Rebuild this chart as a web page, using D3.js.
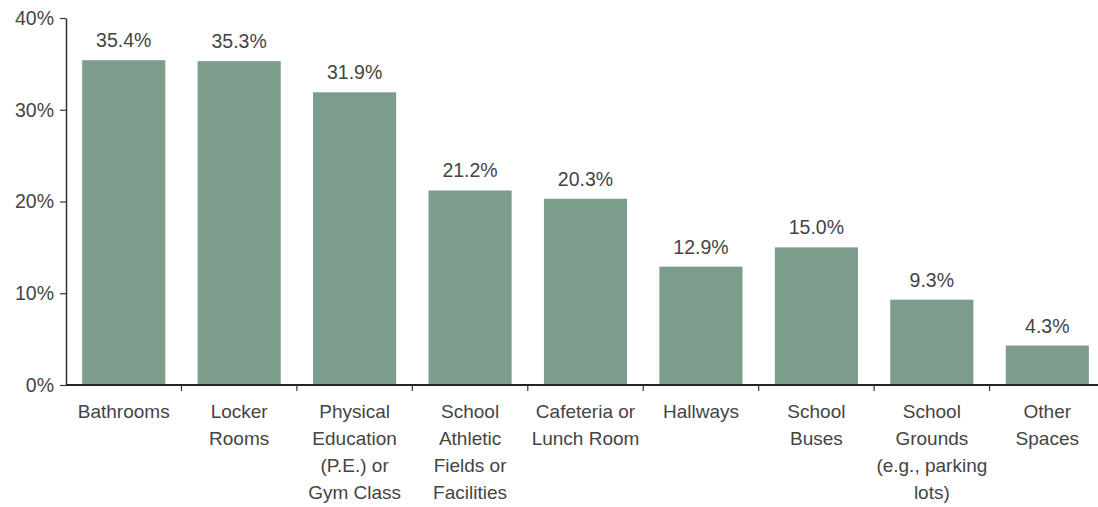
<!DOCTYPE html>
<html>
<head>
<meta charset="utf-8">
<script src="https://cdn.jsdelivr.net/npm/d3@7"></script>
<style>
  body { margin: 0; background: #fff; }
  text { font-family: "Liberation Sans", Arial, sans-serif; fill: #444; }
</style>
</head>
<body>
<div id="chart"></div>
<script>
// data
var categories = [
  ["Bathrooms"],
  ["Locker", "Rooms"],
  ["Physical", "Education", "(P.E.) or", "Gym Class"],
  ["School", "Athletic", "Fields or", "Facilities"],
  ["Cafeteria or", "Lunch Room"],
  ["Hallways"],
  ["School", "Buses"],
  ["School", "Grounds", "(e.g., parking", "lots)"],
  ["Other", "Spaces"]
];
var values = [35.4, 35.3, 31.9, 21.2, 20.3, 12.9, 15.0, 9.3, 4.3];
var yTicks = [0, 10, 20, 30, 40];

var W = 1098, H = 507;
var plotLeft = 66, plotBottom = 385, plotTop = 18;

var svg = d3.select("#chart").append("svg")
  .attr("width", W).attr("height", H);

var x = d3.scaleBand()
  .domain(d3.range(values.length))
  .range([plotLeft, 1105])
  .paddingInner(0.28)
  .paddingOuter(0.14);

var y = d3.scaleLinear()
  .domain([0, 40])
  .range([plotBottom, plotTop]);

// bars
svg.selectAll(".bar")
  .data(values)
  .enter().append("rect")
  .attr("class", "bar")
  .attr("x", function(d, i) { return x(i); })
  .attr("width", x.bandwidth())
  .attr("y", function(d) { return y(d); })
  .attr("height", function(d) { return plotBottom - y(d); })
  .attr("fill", "#7c9c8c");

// value labels
svg.selectAll(".val")
  .data(values)
  .enter().append("text")
  .attr("class", "val")
  .attr("x", function(d, i) { return x(i) + x.bandwidth() / 2; })
  .attr("y", function(d) { return y(d) - 13; })
  .attr("text-anchor", "middle")
  .style("font-size", "19.5px")
  .text(function(d) { return d.toFixed(1) + "%"; });

// y axis
var yAxis = svg.append("g")
  .attr("transform", "translate(" + plotLeft + ",0)")
  .call(d3.axisLeft(y).tickValues(yTicks).tickSize(6).tickSizeOuter(0)
    .tickFormat(function(d) { return d + "%"; }));
yAxis.select(".domain").attr("stroke", "#333").attr("stroke-width", 1.5);
yAxis.selectAll(".tick line").attr("stroke", "#333").attr("stroke-width", 1.2);
yAxis.selectAll(".tick text")
  .attr("x", -12)
  .style("font-size", "19.5px")
  .style("font-family", "'Liberation Sans', Arial, sans-serif")
  .attr("fill", "#444");

// x axis line and tick marks between bands
var xAxis = svg.append("g");
xAxis.append("line")
  .attr("x1", plotLeft).attr("x2", W)
  .attr("y1", plotBottom).attr("y2", plotBottom)
  .attr("stroke", "#222").attr("stroke-width", 2);
xAxis.selectAll(".xt")
  .data(d3.range(1, values.length))
  .enter().append("line")
  .attr("class", "xt")
  .attr("x1", function(i) { return x(i) - x.step() * x.paddingInner() / 2; })
  .attr("x2", function(i) { return x(i) - x.step() * x.paddingInner() / 2; })
  .attr("y1", plotBottom).attr("y2", plotBottom + 6)
  .attr("stroke", "#333").attr("stroke-width", 1.2);

// category labels
var lab = svg.selectAll(".cat")
  .data(categories)
  .enter().append("text")
  .attr("class", "cat")
  .attr("text-anchor", "middle")
  .style("font-size", "19px")
  .attr("transform", function(d, i) {
    return "translate(" + (x(i) + x.bandwidth() / 2) + "," + 418 + ")";
  });
lab.selectAll("tspan")
  .data(function(d) { return d; })
  .enter().append("tspan")
  .attr("x", 0)
  .attr("y", function(d, j) { return j * 27; })
  .text(function(d) { return d; });
</script>
</body>
</html>
